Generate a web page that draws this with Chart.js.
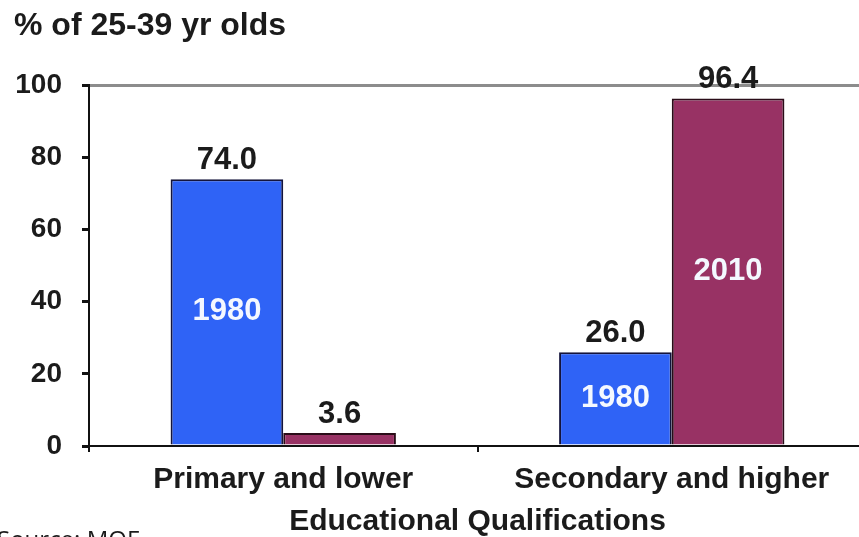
<!DOCTYPE html>
<html>
<head>
<meta charset="utf-8">
<script src="https://cdn.jsdelivr.net/npm/chart.js@4"></script>
<style>
  html, body { margin: 0; padding: 0; background: #fff; overflow: hidden; }
  #wrap { position: relative; width: 866px; height: 537px; }
</style>
</head>
<body>
<div id="wrap"><canvas id="c"></canvas></div>
<script>
const categories = ['Primary and lower', 'Secondary and higher'];
const seriesNames = ['1980', '2010'];
const values1980 = [74.0, 26.0];
const values2010 = [3.6, 96.4];
const yTickValues = [0, 20, 40, 60, 80, 100];
const chartTitle = '% of 25-39 yr olds';
const xAxisTitle = 'Educational Qualifications';
const sourceNote = 'Source: MOF';

const FONT = '"Liberation Sans", Arial, Helvetica, sans-serif';
const TEXT = '#1b1b1b';

const labelPlugin = {
  id: 'barLabels',
  afterDatasetsDraw(chart) {
    const ctx = chart.ctx;
    ctx.save();
    chart.data.datasets.forEach((ds, di) => {
      const meta = chart.getDatasetMeta(di);
      meta.data.forEach((bar, i) => {
        const v = ds.data[i];
        ctx.font = 'bold 31px ' + FONT;
        ctx.textAlign = 'center';
        ctx.textBaseline = 'alphabetic';
        ctx.fillStyle = TEXT;
        ctx.fillText(v.toFixed(1), bar.x, bar.y - 10);
        if (v > 10) {
          ctx.fillStyle = '#f4f8ff';
          ctx.textBaseline = 'middle';
          ctx.fillText(ds.label, bar.x, (bar.y + bar.base) / 2);
        }
      });
    });
    ctx.restore();
  },
  afterDraw(chart) {
    const ctx = chart.ctx;
    ctx.save();
    ctx.font = '24px "Open Sans", sans-serif';
    ctx.fillStyle = TEXT;
    ctx.textAlign = 'left';
    ctx.textBaseline = 'alphabetic';
    ctx.fillText(sourceNote, -3, 548);
    ctx.restore();
  }
};

new Chart(document.getElementById('c'), {
  type: 'bar',
  data: {
    labels: categories,
    datasets: [
      { label: seriesNames[0], data: values1980, backgroundColor: '#2f63f6', borderColor: '#14143c', borderWidth: 2 },
      { label: seriesNames[1], data: values2010, backgroundColor: '#983264', borderColor: '#2a0c18', borderWidth: 2 }
    ]
  },
  options: {
    responsive: true,
    maintainAspectRatio: false,
    animation: false,
    layout: { padding: { left: 14, right: 0, top: 0, bottom: 0 } },
    datasets: { bar: { categoryPercentage: 0.58, barPercentage: 1.0 } },
    plugins: {
      legend: { display: false },
      tooltip: { enabled: false },
      title: {
        display: true,
        text: chartTitle,
        align: 'start',
        color: TEXT,
        font: { family: FONT, size: 32, weight: 'bold' },
        padding: { top: 7, bottom: 40 }
      }
    },
    scales: {
      x: {
        offset: true,
        afterFit(scale) { scale.height = 91; },
        border: { color: '#111', width: 2 },
        grid: { offset: true, drawOnChartArea: false, color: '#111', tickColor: '#111', tickLength: 6, lineWidth: 2 },
        ticks: { color: TEXT, font: { family: FONT, size: 30, weight: 'bold' }, padding: 10, maxRotation: 0 },
        title: { display: true, text: xAxisTitle, color: TEXT, font: { family: FONT, size: 30, weight: 'bold', lineHeight: 1.0 }, padding: { top: 0, bottom: 0 } }
      },
      y: {
        min: 0,
        max: 100,
        afterBuildTicks(scale) { scale.ticks = yTickValues.map(v => ({ value: v })); },
        afterFit(scale) { scale.width = 75; },
        border: { color: '#111', width: 2 },
        grid: {
          color: (c) => (c.tick && c.tick.value === 100 ? '#8c8c8c' : 'rgba(0,0,0,0)'),
          lineWidth: 3,
          tickColor: '#111',
          tickLength: 7
        },
        ticks: { color: TEXT, font: { family: FONT, size: 28, weight: 'bold' }, padding: 20 }
      }
    }
  },
  plugins: [labelPlugin]
});
</script>
</body>
</html>
